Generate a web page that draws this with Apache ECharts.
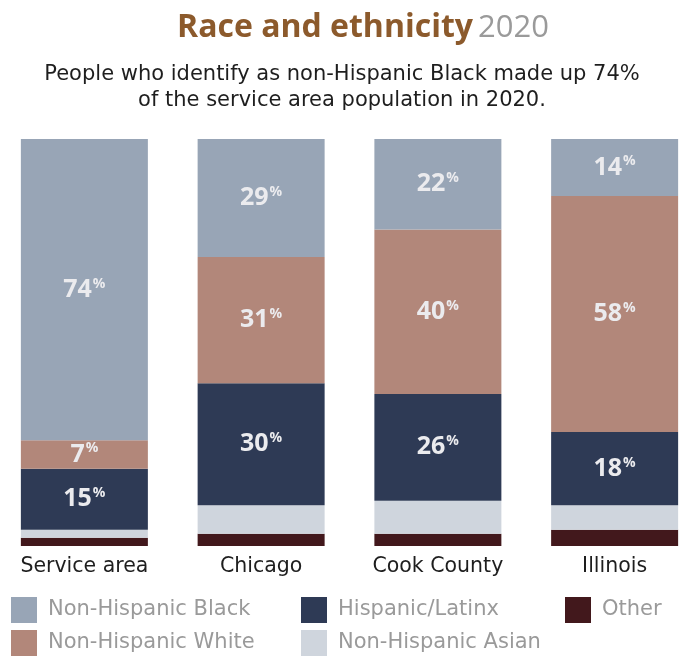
<!DOCTYPE html>
<html>
<head>
<meta charset="utf-8">
<script src="https://cdn.jsdelivr.net/npm/echarts@6/dist/echarts.min.js"></script>
<style>
  html, body { margin: 0; padding: 0; background: #fff; }
  #chart { width: 684px; height: 658px; }
</style>
</head>
<body>
<div id="chart"></div>
<script>
const categories = ['Service area', 'Chicago', 'Cook County', 'Illinois']
const black = [74, 29, 22, 14]
const white = [7, 31, 40, 58]
const hispanic = [15, 30, 26, 18]
const asian = [2, 7, 8, 6]
const other = [2, 3, 3, 4]

// stacked bottom -> top
const groups = [
  { name: 'Other', data: other, color: '#42181c', label: false },
  { name: 'Non-Hispanic Asian', data: asian, color: '#cfd5dd', label: false },
  { name: 'Hispanic/Latinx', data: hispanic, color: '#2e3a55', label: true },
  { name: 'Non-Hispanic White', data: white, color: '#b2877a', label: true },
  { name: 'Non-Hispanic Black', data: black, color: '#98a5b6', label: true }
]

// legend slots: [name, left, top]
const legendSlots = [
  ['Non-Hispanic Black', 11, 597],
  ['Non-Hispanic White', 11, 630],
  ['Hispanic/Latinx', 301, 597],
  ['Non-Hispanic Asian', 301, 630],
  ['Other', 565, 597]
]

const totals = categories.map((c, i) => groups.reduce((s, g) => s + g.data[i], 0))

const font = '"DejaVu Sans", sans-serif'
const boldFont = '"Open Sans", sans-serif'

const chart = echarts.init(document.getElementById('chart'))

const option = {
  backgroundColor: '#fff',
  animation: false,
  title: [
    {
      text: '{a|Race and ethnicity} {b|2020}',
      left: 172,
      top: 7,
      textStyle: {
        rich: {
          a: { fontFamily: boldFont, fontSize: 32, fontWeight: 'bold', color: '#8c5a2c' },
          b: { fontFamily: boldFont, fontSize: 31, fontWeight: 'normal', color: '#9a9a9a' }
        }
      }
    },
    {
      text: 'People who identify as non-Hispanic Black made up 74%\nof the service area population in 2020.',
      left: 'center',
      top: 57,
      textStyle: { fontFamily: font, fontSize: 21, fontWeight: 'normal', color: '#1e1e1e', lineHeight: 26, align: 'center' }
    }
  ],
  legend: legendSlots.map(s => ({
    left: s[1],
    top: s[2],
    padding: 0,
    data: [s[0]],
    itemWidth: 26,
    itemHeight: 26,
    icon: 'rect',
    textStyle: { fontFamily: font, fontSize: 21, color: '#9a9a9a', padding: [0, 0, 0, 6] }
  })),
  grid: { left: -4, right: -19, top: 139, bottom: 112, outerBoundsMode: 'none' },
  xAxis: {
    type: 'category',
    data: categories,
    axisLine: { show: false },
    axisTick: { show: false },
    axisLabel: { fontFamily: font, fontSize: 20.5, color: '#1e1e1e', margin: 10 }
  },
  yAxis: {
    type: 'value',
    min: 0,
    max: 100,
    show: false,
    splitLine: { show: false }
  },
  series: groups.map(g => ({
    name: g.name,
    type: 'bar',
    stack: 'total',
    barWidth: 127,
    itemStyle: { color: g.color },
    data: g.data.map((v, i) => v / totals[i] * 100),
    label: {
      show: g.label,
      position: 'inside',
      formatter: p => '{v|' + g.data[p.dataIndex] + '}{p|%}',
      rich: {
        v: { fontFamily: boldFont, fontSize: 25, fontWeight: 'bold', color: '#ebebee', lineHeight: 26 },
        p: { fontFamily: boldFont, fontSize: 14, fontWeight: 'bold', color: '#ebebee', lineHeight: 26, verticalAlign: 'top', padding: [0, 0, 10, 1] }
      }
    }
  }))
}

chart.setOption(option)
window.addEventListener('resize', () => chart.resize())
</script>
</body>
</html>
